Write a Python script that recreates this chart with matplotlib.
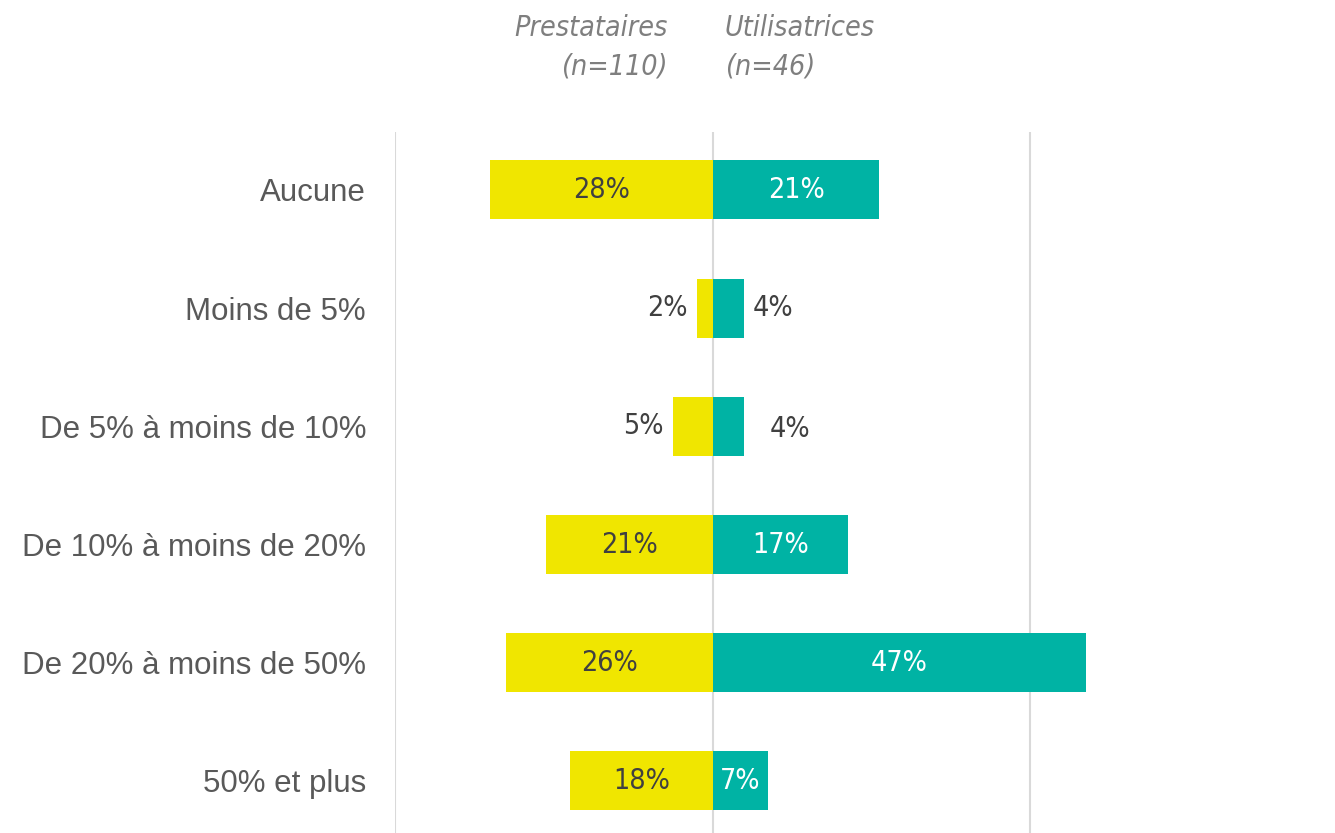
import matplotlib.pyplot as plt

categories = [
    "Aucune",
    "Moins de 5%",
    "De 5% à moins de 10%",
    "De 10% à moins de 20%",
    "De 20% à moins de 50%",
    "50% et plus",
]
prestataires = [28, 2, 5, 21, 26, 18]
utilisatrices = [21, 4, 4, 17, 47, 7]
header_left = "Prestataires\n(n=110)"
header_right = "Utilisatrices\n(n=46)"

YELLOW = "#F0E600"
TEAL = "#00B3A4"
DARK = "#404040"
GREY = "#595959"

plt.rcParams["font.family"] = ["Liberation Sans", "DejaVu Sans"]
cond = ["DejaVu Sans"]

W, H = 1335, 833
fig = plt.figure(figsize=(W / 100, H / 100), dpi=100)
x0, x_mid, x40 = 395, 712, 1030
top, bottom = 132, 833
ax = fig.add_axes([x0 / W, 0, (W - x0) / W, (H - top) / H])
ppu = (x40 - x_mid) / 40.0
ax.set_xlim(-40, (W - x_mid) / ppu)
ax.set_ylim(5 + (bottom - 781) / 118, -0.49)

for gx in (-40, 0, 40):
    ax.axvline(gx, color="#D9D9D9", lw=1.5, zorder=0)

y = list(range(len(categories)))
ax.barh(y, [-v for v in prestataires], height=0.5, color=YELLOW, zorder=2)
ax.barh(y, utilisatrices, height=0.5, color=TEAL, zorder=2)

lab_kw = dict(fontsize=20.5, family=cond, fontstretch="condensed", va="center")
for i, (p, u) in enumerate(zip(prestataires, utilisatrices)):
    if p >= 7:
        ax.text(-p / 2, i, f"{p}%", ha="center", color=DARK, **lab_kw)
    else:
        ax.text(-p - 1.2, i, f"{p}%", ha="right", color=DARK, **lab_kw)
    if u >= 7:
        ax.text(u / 2, i, f"{u}%", ha="center", color="white", **lab_kw)
    else:
        off = 1.0 if i == 1 else 3.2
        ax.text(u + off, i + (0.02 if i == 2 else 0), f"{u}%", ha="left", color=DARK, **lab_kw)

ax.set_yticks(y)
ax.set_yticklabels(categories, fontsize=22.5, color=GREY)
ax.tick_params(axis="y", length=0, pad=(x0 - 366) * 0.72)
ax.set_xticks([])
for s in ax.spines.values():
    s.set_visible(False)

hdr_kw = dict(fontsize=20.5, family=cond, fontstretch="condensed", style="italic",
              color="#7F7F7F", va="top", linespacing=1.5)
fig.text(668 / W, 1 - 14 / H, header_left, ha="right", multialignment="right", **hdr_kw)
fig.text(725 / W, 1 - 14 / H, header_right, ha="left", multialignment="left", **hdr_kw)

fig.savefig("out.png", dpi=100)
